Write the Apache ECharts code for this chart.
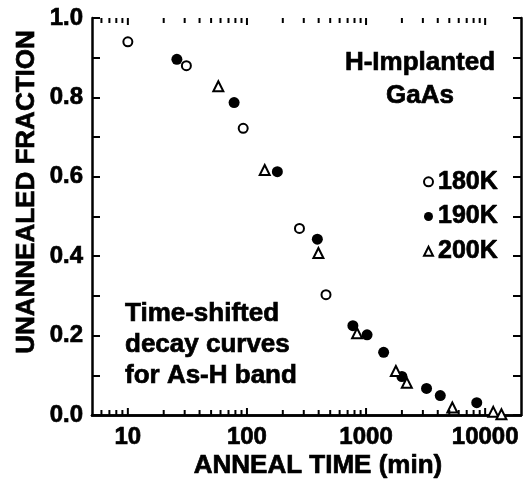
<!DOCTYPE html>
<html>
<head>
<meta charset="utf-8">
<script src="https://cdn.jsdelivr.net/npm/echarts@6/dist/echarts.min.js"></script>
<style>
html,body{margin:0;padding:0;background:#fff;}
#c{width:524px;height:486px;}
</style>
</head>
<body>
<div id="c"></div>
<script>
// ---- data ----
const t180 = [10, 31, 93, 276, 461];
const f180 = [0.940, 0.880, 0.722, 0.470, 0.303];

const t190 = [25.8, 78, 180, 390, 775, 1020, 1405, 2000, 3220, 4200, 8500];
const f190 = [0.896, 0.787, 0.613, 0.443, 0.225, 0.202, 0.158, 0.097, 0.067, 0.049, 0.031];

const t200 = [57.5, 141, 398, 841, 1780, 2200, 5300, 11700, 13700];
const f200 = [0.828, 0.617, 0.408, 0.206, 0.111, 0.081, 0.019, 0.008, 0.002];

const seriesNames = ['180K', '190K', '200K'];
const majorTicks = [10, 100, 1000, 10000];
const minorTicks = [6, 7, 8, 9, 20, 30, 40, 50, 60, 70, 80, 90,
  200, 300, 400, 500, 600, 700, 800, 900,
  2000, 3000, 4000, 5000, 6000, 7000, 8000, 9000];
const xTitle = 'ANNEAL TIME (min)';
const yTitle = 'UNANNEALED FRACTION';
const note1 = ['H-Implanted', 'GaAs'];
const note2 = ['Time-shifted', 'decay curves', 'for As-H band'];

// ---- chart ----
const FONT = '"Liberation Sans", Arial, Helvetica, sans-serif';
const pairs = (xs, ys) => xs.map((x, i) => [x, ys[i]]);
const HEAVY = {textBorderColor: '#000', textBorderWidth: 0.7};

function tickRenderer(len) {
  return function (params, api) {
    const x = api.value(0);
    const pb = api.coord([x, 0]);
    const pt = api.coord([x, 1]);
    return {
      type: 'group',
      children: [
        {type: 'line', shape: {x1: pb[0], y1: pb[1], x2: pb[0], y2: pb[1] - len}, style: {stroke: '#000', lineWidth: 2}},
        {type: 'line', shape: {x1: pt[0], y1: pt[1], x2: pt[0], y2: pt[1] + len}, style: {stroke: '#000', lineWidth: 2}}
      ]
    };
  };
}

function txt(x, y, text, size, align, rot) {
  return {
    type: 'text', x: x, y: y, rotation: rot || 0,
    style: Object.assign({text: text, fill: '#000', font: 'bold ' + size + 'px ' + FONT,
      textAlign: align, textVerticalAlign: 'middle', stroke: '#000', lineWidth: 0.7})
  };
}

const chart = echarts.init(document.getElementById('c'), null, {renderer: 'canvas'});
const option = {
  backgroundColor: '#fff',
  animation: false,
  textStyle: {fontFamily: FONT},
  grid: {left: 92, right: 3, top: 18, bottom: 71, containLabel: false},
  xAxis: [{
    type: 'log', logBase: 10, min: 5, max: 20000, position: 'bottom',
    axisLine: {show: true, lineStyle: {color: '#000', width: 2.5}},
    axisTick: {show: false},
    splitLine: {show: false},
    axisLabel: Object.assign({
      color: '#000', fontSize: 24, fontWeight: 'bold', fontFamily: FONT, margin: 10,
      showMinLabel: false, showMaxLabel: false,
      formatter: function (v) {
        const r = Math.round(v);
        return majorTicks.indexOf(r) >= 0 ? String(r) : '';
      }
    }, HEAVY)
  }, {
    type: 'log', logBase: 10, min: 5, max: 20000, position: 'top',
    axisLine: {show: true, lineStyle: {color: '#000', width: 2.5}},
    axisTick: {show: false}, axisLabel: {show: false}, splitLine: {show: false}
  }],
  yAxis: [{
    type: 'value', min: 0, max: 1, interval: 0.2, position: 'left',
    axisLine: {show: true, lineStyle: {color: '#000', width: 2.5}},
    axisTick: {show: true, inside: true, length: 8, lineStyle: {color: '#000', width: 2}},
    minorTick: {show: true, splitNumber: 2, length: 8, lineStyle: {color: '#000', width: 2}},
    splitLine: {show: false},
    axisLabel: Object.assign({
      color: '#000', fontSize: 24, fontWeight: 'bold', fontFamily: FONT, margin: 9,
      formatter: v => v.toFixed(1)
    }, HEAVY)
  }, {
    type: 'value', min: 0, max: 1, interval: 0.1, position: 'right',
    axisLine: {show: true, lineStyle: {color: '#000', width: 2.5}},
    axisTick: {show: true, inside: true, length: 8, lineStyle: {color: '#000', width: 2}},
    splitLine: {show: false}, axisLabel: {show: false}
  }],
  legend: {
    data: seriesNames, orient: 'vertical', left: 423, top: 169,
    itemWidth: 9, itemHeight: 9, itemGap: 9, padding: 0, selectedMode: false,
    textStyle: Object.assign({color: '#000', fontSize: 25, fontWeight: 'bold', fontFamily: FONT}, HEAVY)
  },
  series: [
    {
      name: seriesNames[0], type: 'scatter', symbol: 'circle', symbolSize: 9,
      itemStyle: {color: '#fff', borderColor: '#000', borderWidth: 2, opacity: 1},
      data: pairs(t180, f180), z: 5
    },
    {
      name: seriesNames[1], type: 'scatter', symbol: 'circle', symbolSize: 11,
      itemStyle: {color: '#000', borderColor: '#000', borderWidth: 0, opacity: 1},
      data: pairs(t190, f190), z: 4
    },
    {
      name: seriesNames[2], type: 'scatter', symbol: 'triangle', symbolSize: 10,
      itemStyle: {color: '#fff', borderColor: '#000', borderWidth: 2, opacity: 1},
      data: pairs(t200, f200), z: 6
    },
    {
      type: 'custom', renderItem: tickRenderer(7), clip: false, silent: true,
      data: majorTicks.map(v => [v, 0]), z: 10
    },
    {
      type: 'custom', renderItem: tickRenderer(5), clip: false, silent: true,
      data: minorTicks.map(v => [v, 0]), z: 10
    }
  ],
  graphic: [
    txt(27, 192, yTitle, 26, 'center', Math.PI / 2),
    txt(318, 466, xTitle, 26, 'center'),
    txt(420, 63, note1[0], 26, 'center'),
    txt(420, 96, note1[1], 26, 'center'),
    txt(125, 314, note2[0], 26, 'left'),
    txt(125, 345, note2[1], 26, 'left'),
    txt(125, 376, note2[2], 26, 'left')
  ]
};
chart.setOption(option);
</script>
</body>
</html>
